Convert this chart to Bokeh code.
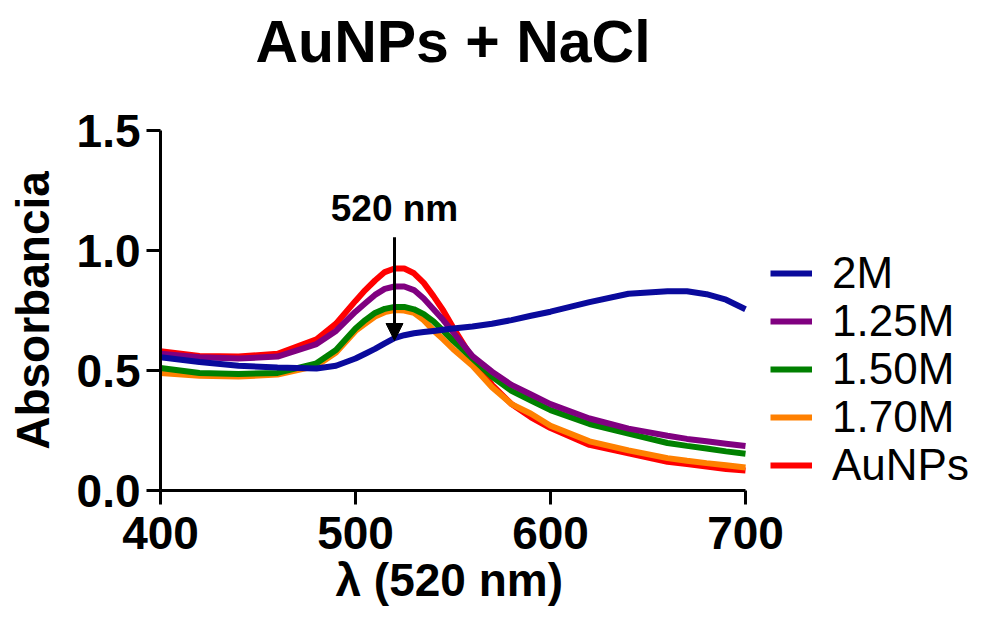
from bokeh.plotting import figure
from bokeh.models import Legend, LegendItem, Arrow, NormalHead, Label, Range1d, FixedTicker, Title
from bokeh.embed import file_html
from bokeh.resources import INLINE

wavelength = [400, 420, 440, 460, 480, 490, 500, 505, 510, 515, 520, 525, 530, 535, 540, 545, 550, 560, 570, 580, 590, 600, 620, 640, 660, 670, 680, 690, 700]

abs_2M = [0.555, 0.535, 0.520, 0.512, 0.508, 0.520, 0.550, 0.570, 0.590, 0.613, 0.635, 0.647, 0.655, 0.660, 0.665, 0.670, 0.675, 0.683, 0.695, 0.710, 0.728, 0.745, 0.785, 0.820, 0.830, 0.830, 0.818, 0.795, 0.755]
abs_125M = [0.570, 0.555, 0.550, 0.558, 0.610, 0.665, 0.745, 0.780, 0.815, 0.840, 0.850, 0.850, 0.835, 0.800, 0.755, 0.710, 0.660, 0.560, 0.495, 0.440, 0.400, 0.360, 0.300, 0.258, 0.228, 0.215, 0.205, 0.195, 0.185]
abs_150M = [0.510, 0.490, 0.485, 0.490, 0.530, 0.585, 0.675, 0.710, 0.740, 0.757, 0.765, 0.765, 0.755, 0.735, 0.705, 0.665, 0.625, 0.550, 0.475, 0.415, 0.375, 0.335, 0.277, 0.237, 0.198, 0.186, 0.175, 0.163, 0.153]
abs_170M = [0.490, 0.478, 0.475, 0.483, 0.520, 0.575, 0.665, 0.695, 0.725, 0.743, 0.752, 0.750, 0.740, 0.710, 0.667, 0.630, 0.590, 0.520, 0.430, 0.360, 0.320, 0.270, 0.205, 0.167, 0.135, 0.124, 0.114, 0.105, 0.096]
abs_aunps = [0.580, 0.560, 0.558, 0.570, 0.630, 0.695, 0.790, 0.835, 0.875, 0.910, 0.925, 0.925, 0.905, 0.865, 0.810, 0.750, 0.680, 0.550, 0.440, 0.360, 0.305, 0.260, 0.190, 0.155, 0.120, 0.110, 0.100, 0.090, 0.083]

series_names = ["2M", "1.25M", "1.50M", "1.70M", "AuNPs"]
series_colors = ["#0A0A9C", "#800080", "#008000", "#FF8000", "#FF0000"]
series_values = [abs_2M, abs_125M, abs_150M, abs_170M, abs_aunps]

x_ticks = [400, 500, 600, 700]
y_ticks = [0.0, 0.5, 1.0, 1.5]

peak_nm = 520
arrow_top = 1.055
arrow_tip = 0.625
peak_label_y = 1.175

FONT = "Liberation Sans"

# layout (pixels)
W, H = 972, 622
FRAME_L, AXIS_R, FRAME_T, FRAME_B = 160, 745, 130, 490
x_lo, x_hi = 400, 700
x_view_end = x_lo + (W - FRAME_L) * (x_hi - x_lo) / (AXIS_R - FRAME_L)

p = figure(width=W, height=H, output_backend="svg", toolbar_location=None,
           x_range=Range1d(x_lo, x_view_end), y_range=Range1d(0, 1.5),
           min_border_left=FRAME_L, min_border_right=0, min_border_top=FRAME_T,
           min_border_bottom=H - FRAME_B)
p.outline_line_color = None
p.grid.grid_line_color = None

p.title.text = "AuNPs + NaCl"
p.title.align = "left"
p.title.offset = 95
p.title.vertical_align = "top"
p.title.text_font = FONT
p.title.text_font_size = "59px"
p.title.text_font_style = "bold"
p.title.text_color = "black"
p.title.standoff = 14

# empty spacer between title and plot frame, so the title sits near the top edge
spacer = Title(text=" ", text_font_size="1px", standoff=44)
p.add_layout(spacer, "above")

for ax in (p.xaxis[0], p.yaxis[0]):
    ax.axis_line_width = 3
    ax.major_tick_line_width = 3
    ax.major_tick_out = 14
    ax.major_tick_in = 0
    ax.minor_tick_line_color = None
    ax.major_label_text_font = FONT
    ax.major_label_text_font_size = "46px"
    ax.major_label_text_font_style = "bold"
    ax.major_label_text_color = "black"
    ax.axis_label_text_font = FONT
    ax.axis_label_text_font_size = "46px"
    ax.axis_label_text_font_style = "bold"
    ax.axis_label_text_color = "black"

p.xaxis.bounds = (x_lo, x_hi)
p.xaxis.ticker = FixedTicker(ticks=x_ticks)
p.yaxis.ticker = FixedTicker(ticks=y_ticks)
p.yaxis.major_label_overrides = {t: f"{t:.1f}" for t in y_ticks}
p.yaxis.axis_label = "Absorbancia"
p.xaxis.major_label_standoff = 12
p.yaxis.major_label_standoff = 6
p.yaxis.axis_label_standoff = 15

# x-axis title centred under the 400-700 axis (the frame extends further right for the legend)
xlabel = Title(text="λ (520 nm)", align="left", offset=175, text_font=FONT, text_font_size="46px",
               text_font_style="bold", text_color="black", standoff=0, vertical_align="bottom")
p.add_layout(xlabel, "below")

renderers = {}
draw_order = [4, 3, 2, 1, 0]
for i in draw_order:
    r = p.line(wavelength, series_values[i], line_color=series_colors[i], line_width=6)
    renderers[i] = r

# one legend per entry, evenly spaced rows at the reference's legend position
row_centers = [274, 322, 370, 418, 466]
ROW_H = 48
for i in range(5):
    lg = Legend(items=[LegendItem(label=series_names[i], renderers=[renderers[i]])],
                location=(610, FRAME_B - row_centers[i] - ROW_H / 2),
                label_text_font=FONT, label_text_font_size="44px", label_text_color="black",
                glyph_width=42, glyph_height=ROW_H, label_height=ROW_H, label_standoff=20,
                spacing=0, padding=0, margin=0, border_line_color=None, background_fill_alpha=0)
    p.add_layout(lg, "center")

p.add_layout(Arrow(x_start=peak_nm, y_start=arrow_top, x_end=peak_nm, y_end=arrow_tip,
                   line_width=3, line_color="black",
                   end=NormalHead(size=17, fill_color="black", line_color="black")))
p.add_layout(Label(x=peak_nm, y=peak_label_y, text="520 nm", text_align="center", text_baseline="middle",
                   text_font=FONT, text_font_size="37px", text_font_style="bold", text_color="black"))

open("out.html", "w").write(file_html(p, INLINE))
